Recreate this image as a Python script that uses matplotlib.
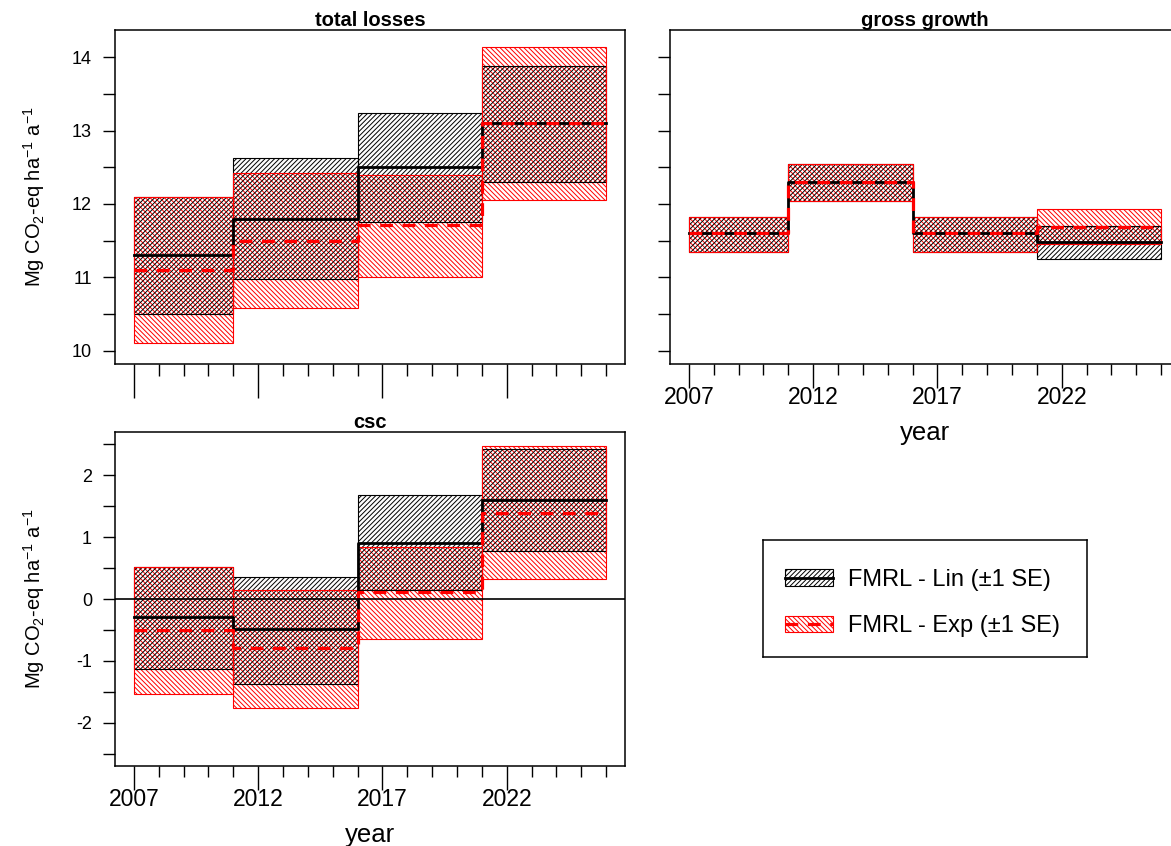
import numpy as np
import matplotlib
matplotlib.use("Agg")
from matplotlib import pyplot as plt
from matplotlib.patches import Patch
from matplotlib.lines import Line2D
from matplotlib.ticker import MultipleLocator

plt.rcParams['font.family'] = ['Liberation Sans', 'DejaVu Sans']
plt.rcParams['mathtext.fontset'] = 'custom'
plt.rcParams['mathtext.rm'] = 'Liberation Sans'
plt.rcParams['mathtext.it'] = 'Liberation Sans:italic'
plt.rcParams['axes.unicode_minus'] = False
plt.rcParams['hatch.linewidth'] = 0.7
plt.rcParams['axes.linewidth'] = 1.1

# period boundaries (years)
edges = [2007, 2011, 2016, 2021, 2026]

# total losses
tl_lin_mean = [11.30, 11.80, 12.50, 13.10]
tl_lin_lo = [10.50, 10.98, 11.76, 12.30]
tl_lin_hi = [12.10, 12.62, 13.24, 13.88]
tl_exp_mean = [11.10, 11.50, 11.72, 13.10]
tl_exp_lo = [10.10, 10.58, 11.00, 12.05]
tl_exp_hi = [12.10, 12.42, 12.40, 14.14]

# gross growth
gg_lin_mean = [11.60, 12.30, 11.60, 11.48]
gg_lin_lo = [11.35, 12.04, 11.35, 11.25]
gg_lin_hi = [11.82, 12.54, 11.82, 11.70]
gg_exp_mean = [11.60, 12.30, 11.60, 11.69]
gg_exp_lo = [11.35, 12.04, 11.35, 11.45]
gg_exp_hi = [11.82, 12.54, 11.82, 11.93]

# csc
cs_lin_mean = [-0.29, -0.49, 0.91, 1.60]
cs_lin_lo = [-1.13, -1.38, 0.14, 0.78]
cs_lin_hi = [0.52, 0.35, 1.68, 2.43]
cs_exp_mean = [-0.50, -0.79, 0.11, 1.39]
cs_exp_lo = [-1.54, -1.76, -0.64, 0.32]
cs_exp_hi = [0.52, 0.14, 0.84, 2.47]

major_years = [2007, 2012, 2017, 2022]
ylab = r'Mg CO$_2$-eq ha$^{-1}$ a$^{-1}$'

LIN_HATCH = '/' * 7
EXP_HATCH = '\\' * 7

W, H = 1171, 846
fig = plt.figure(figsize=(W / 100, H / 100), dpi=100)


def box(left, top, w=510, h=334):
    return [left / W, 1 - (top + h) / H, w / W, h / H]


def draw_panel(ax, lin, exp):
    x0 = np.array(edges[:-1])
    wd = np.diff(edges)
    lin_lo, lin_hi = np.array(lin[1]), np.array(lin[2])
    exp_lo, exp_hi = np.array(exp[1]), np.array(exp[2])
    # red hatch first, black hatch over it, red outlines last
    ax.bar(x0, exp_hi - exp_lo, width=wd, bottom=exp_lo, align='edge',
           facecolor='none', edgecolor='red', hatch=EXP_HATCH, linewidth=0)
    ax.bar(x0, lin_hi - lin_lo, width=wd, bottom=lin_lo, align='edge',
           facecolor='none', edgecolor='black', hatch=LIN_HATCH, linewidth=0.8)
    ax.bar(x0, exp_hi - exp_lo, width=wd, bottom=exp_lo, align='edge',
           fill=False, edgecolor='red', linewidth=0.8)
    ax.step(edges, lin[0] + [lin[0][-1]], where='post', color='black', lw=2.0)
    ax.step(edges, exp[0] + [exp[0][-1]], where='post', color='red', lw=2.3,
            dashes=(4, 3))
    ax.set_xlim(2006.24, 2026.76)
    ax.xaxis.set_major_locator(plt.FixedLocator(major_years))
    ax.xaxis.set_minor_locator(MultipleLocator(1))
    ax.yaxis.set_major_locator(MultipleLocator(1))
    ax.yaxis.set_minor_locator(MultipleLocator(0.5))
    ax.tick_params(axis='y', which='both', length=8.6, width=1.0,
                   labelsize=13, pad=8)
    ax.tick_params(axis='x', which='minor', length=8, width=1.0)
    ax.tick_params(axis='x', which='major', length=17, width=1.0,
                   labelsize=16.5, pad=-1.5)


# total losses
ax1 = fig.add_axes(box(115, 30))
draw_panel(ax1, (tl_lin_mean, tl_lin_lo, tl_lin_hi),
           (tl_exp_mean, tl_exp_lo, tl_exp_hi))
ax1.set_ylim(9.82, 14.37)
ax1.tick_params(axis='x', which='major', length=24.5, labelbottom=False)
ax1.tick_params(axis='x', which='minor', length=8.6)
ax1.set_title('total losses', fontsize=14.5, fontweight='bold', pad=1)
ax1.set_ylabel(ylab, fontsize=14.5)

# gross growth
ax2 = fig.add_axes(box(670, 30))
draw_panel(ax2, (gg_lin_mean, gg_lin_lo, gg_lin_hi),
           (gg_exp_mean, gg_exp_lo, gg_exp_hi))
ax2.set_ylim(9.82, 14.37)
ax2.tick_params(axis='y', labelleft=False)
ax2.set_title('gross growth', fontsize=14.5, fontweight='bold', pad=1)
ax2.set_xlabel('year', fontsize=18.5, labelpad=9)

# csc
ax3 = fig.add_axes(box(115, 432))
draw_panel(ax3, (cs_lin_mean, cs_lin_lo, cs_lin_hi),
           (cs_exp_mean, cs_exp_lo, cs_exp_hi))
ax3.axhline(0, color='black', lw=1.2)
ax3.set_ylim(-2.7, 2.7)
ax3.set_title('csc', fontsize=14.5, fontweight='bold', pad=1)
ax3.set_ylabel(ylab, fontsize=14.5)
ax3.set_xlabel('year', fontsize=18.5, labelpad=9)

for ax in (ax1, ax3):
    ax.yaxis.set_label_coords(-0.133, 0.5)

# legend in its own framed box
axl = fig.add_axes(box(763, 540, 324, 117))
axl.set_xticks([])
axl.set_yticks([])
h_lin = (Patch(facecolor='none', edgecolor='black', hatch=LIN_HATCH, lw=0.8),
         Line2D([], [], color='black', lw=2.0))
h_exp = (Patch(facecolor='none', edgecolor='red', hatch=EXP_HATCH, lw=0.8),
         Line2D([], [], color='red', lw=2.3, dashes=(4, 3)))
axl.legend([h_lin, h_exp], ['FMRL - Lin (\u00b11 SE)', 'FMRL - Exp (\u00b11 SE)'],
           loc='center left', bbox_to_anchor=(0.068, 0.46), frameon=False,
           borderpad=0, borderaxespad=0,
           fontsize=17, handlelength=2.03, handleheight=0.7,
           handletextpad=0.64, labelspacing=1.04)

fig.savefig('out.png', dpi=100)
